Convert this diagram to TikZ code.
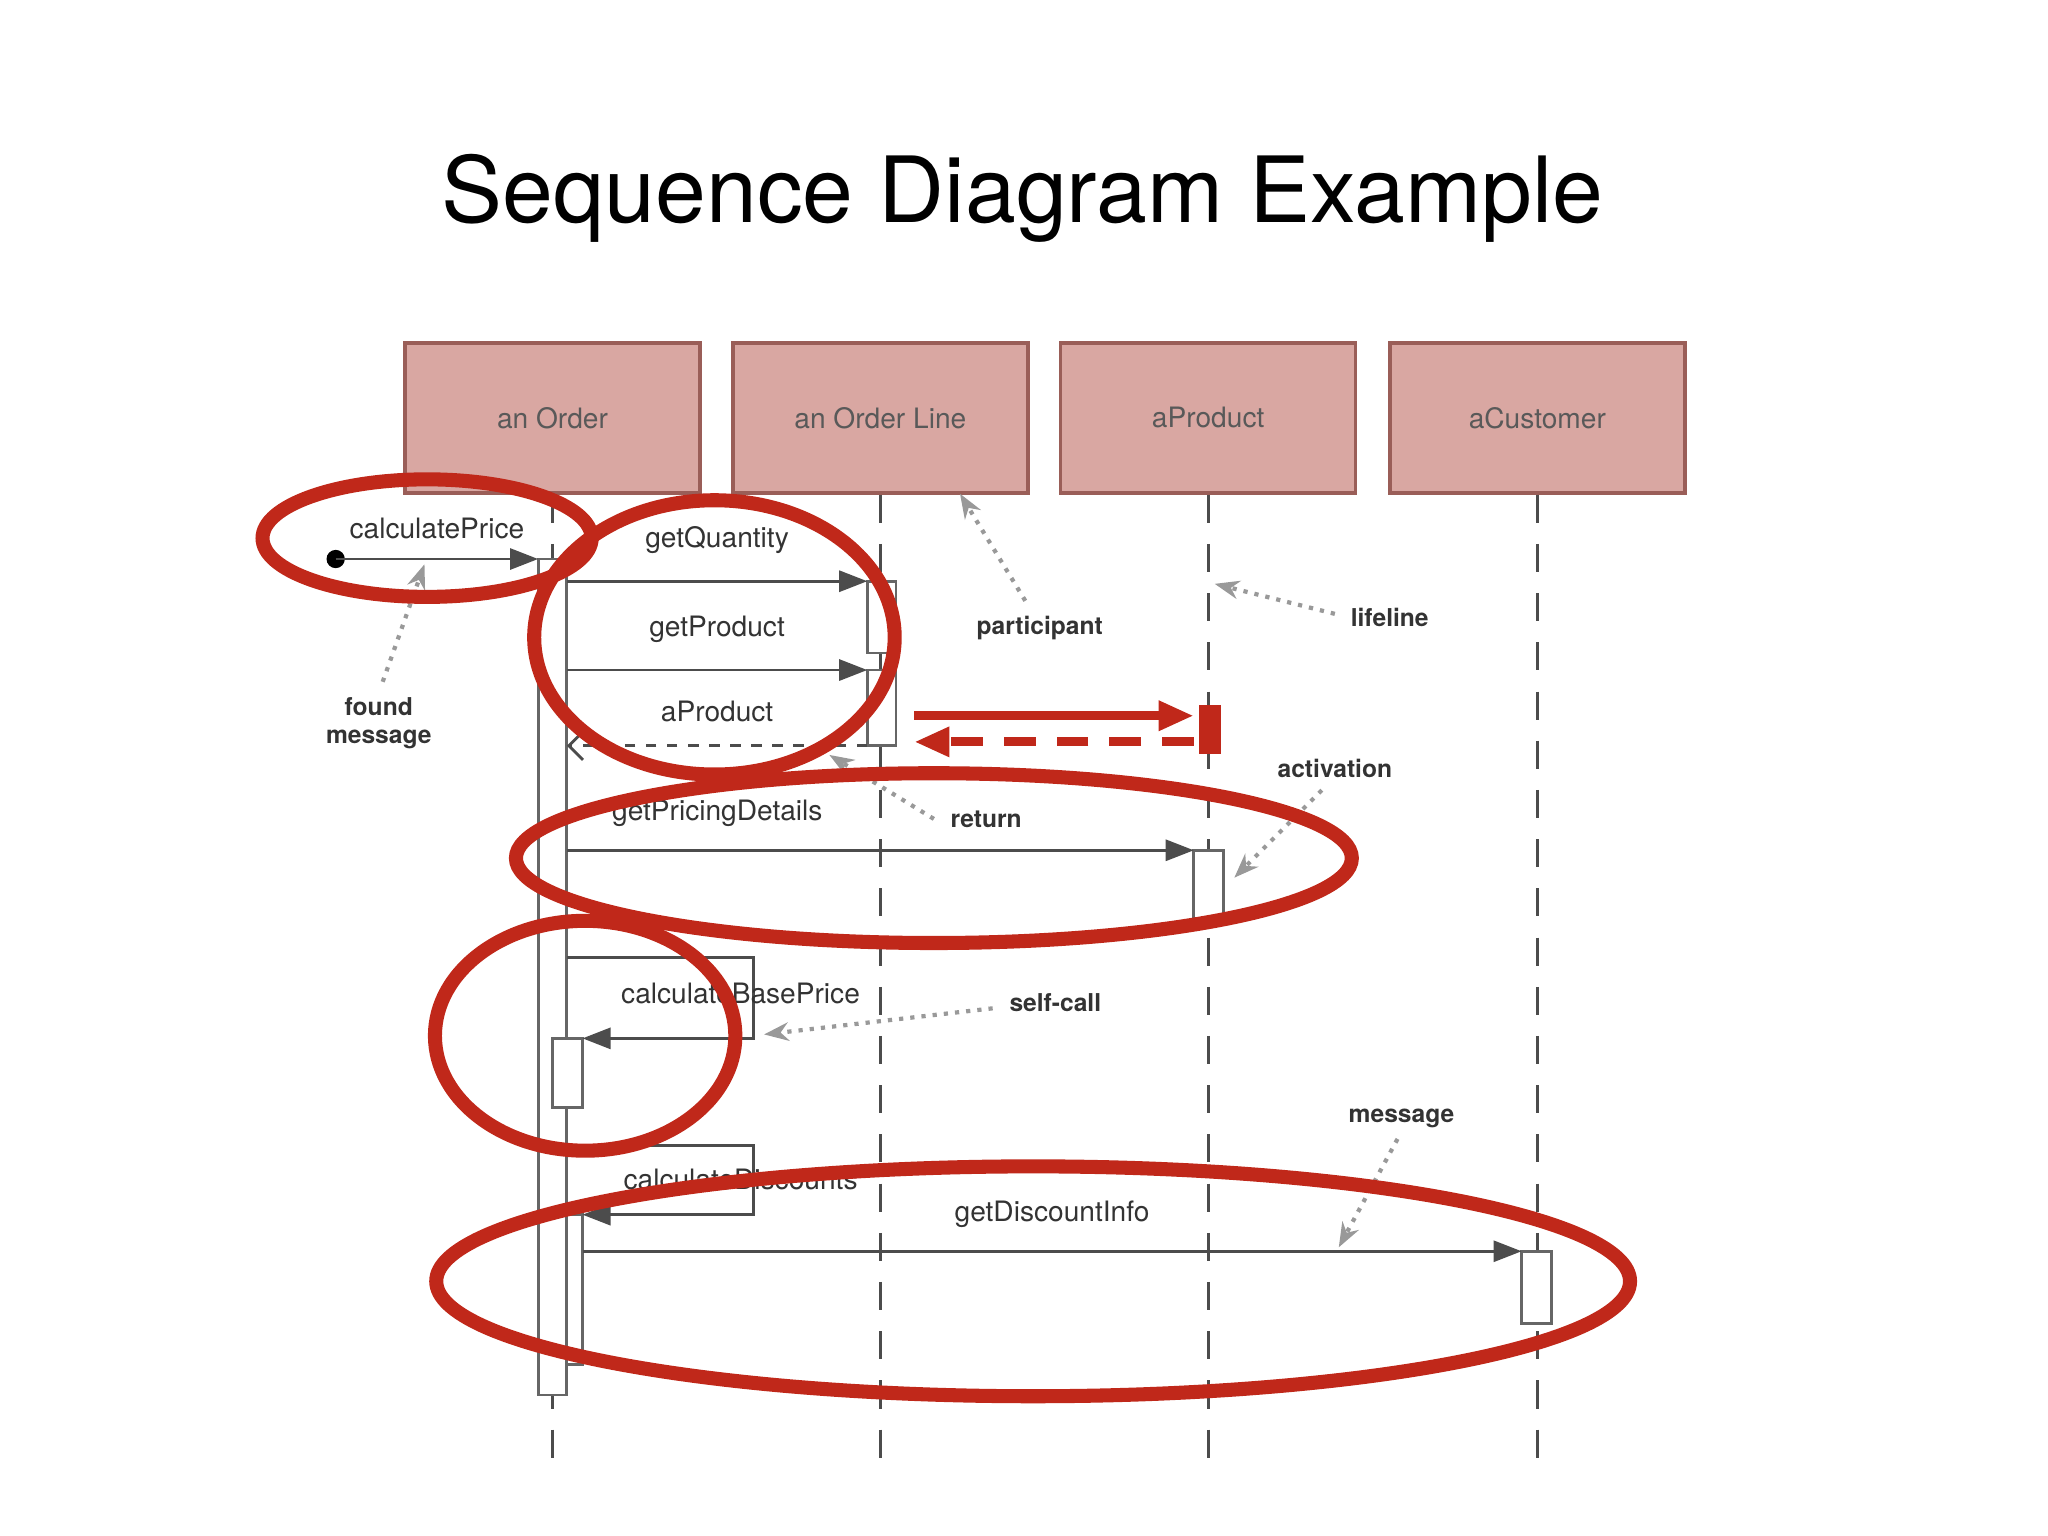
\documentclass[tikz,border=0pt]{standalone}
\usepackage{fontspec}
\setmainfont{TeX Gyre Heros}
\usetikzlibrary{calc,arrows.meta}
\definecolor{boxfill}{HTML}{D9A7A2}
\definecolor{boxline}{HTML}{9A5E58}
\definecolor{hilite}{HTML}{C0281A}
\tikzset{
  part/.style={draw=boxline,fill=boxfill,line width=1pt,minimum width=2.95cm,minimum height=1.5cm,text=black!65,font=\footnotesize},
  life/.style={draw=black!70,line width=0.8pt,dash pattern=on 8pt off 6pt},
  act/.style={draw=black!60,fill=white,line width=0.8pt},
  msg/.style={draw=black!70,line width=0.8pt,-{Triangle[length=8pt,width=6pt]}},
  ret/.style={draw=black!70,line width=0.8pt,dashed,-{Straight Barb[length=4pt]}},
  lbl/.style={font=\footnotesize,text=black!80},
  note/.style={font=\scriptsize\bfseries,text=black!80,align=center},
  pointer/.style={draw=black!40,line width=1.2pt,dotted,-{Stealth[length=7pt]}},
  ring/.style={draw=hilite,line width=4pt}
}
\begin{document}
\begin{tikzpicture}[x=0.01306cm,y=-0.01306cm]
    \useasboundingbox (0,0) rectangle (1568,1176);
    \node[font=\fontsize{26}{30}\selectfont] (title) at (783,152) {Sequence Diagram Example};
    % participants and lifelines
    \foreach \name/\xc/\txt in {ord/423/an Order,line/674/an Order Line,prod/925/aProduct,cust/1177/aCustomer}{
      \node[part] (\name) at (\xc,320) {\txt};
      \coordinate (\name end) at (\xc,1125);
      \draw[life] (\name.south) -- (\name end);
    }
    % activations
    \draw[act] (412,428) rectangle (434,1068);
    \draw[act] (664,445) rectangle (686,500);
    \draw[act] (664,513) rectangle (686,571);
    \draw[act] (914,651) rectangle (937,703);
    \draw[act] (1165,958) rectangle (1188,1013);
    \draw[act] (423,795) rectangle (446,848);
    \draw[act] (434,930) rectangle (446,1045);
    % messages
    \fill (257,428) circle (7);
    \draw[msg] (257,428) -- (412,428) node[lbl,midway,above=2pt] {calculatePrice};
    \draw[msg] (434,445) -- (664,445) node[lbl,midway,above=4pt] {getQuantity};
    \draw[msg] (434,513) -- (664,513) node[lbl,midway,above=4pt] {getProduct};
    \draw[ret] (664,571) -- (434,571) node[lbl,midway,above=3pt] {aProduct};
    \draw[msg] (434,651) -- (914,651) node[lbl,pos=0.24,above=3pt] {getPricingDetails};
    \draw[msg] (434,733) -- (577,733) -- (577,795) -- (446,795);
    \node[lbl] (base) at (567,761) {calculateBasePrice};
    \draw[msg] (434,877) -- (577,877) -- (577,930) -- (446,930);
    \node[lbl] (disc) at (567,903) {calculateDiscounts};
    \draw[msg] (446,958) -- (1165,958) node[lbl,pos=0.5,above=3pt] {getDiscountInfo};
    % red call and return
    \fill[hilite] (918,540) rectangle (935,577);
    \draw[hilite,line width=2.5pt,-{Triangle[length=10pt,width=8pt]}] (700,548) -- (914,548);
    \draw[hilite,line width=2.5pt,dash pattern=on 9pt off 6pt,-{Triangle[length=10pt,width=8pt]}] (914,568) -- (700,568);
    % annotations
    \node[note] (nfound) at (290,554) {found\\message};
    \draw[pointer] (293,522) -- (325,432);
    \node[note] (npart) at (796,481) {participant};
    \draw[pointer] (785,460) -- (735,378);
    \node[note] (nlife) at (1064,473) {lifeline};
    \draw[pointer] (1022,470) -- (930,447);
    \node[note] (nact) at (1022,588) {activation};
    \draw[pointer] (1012,605) -- (945,672);
    \node[note] (nret) at (755,627) {return};
    \draw[pointer] (715,627) -- (635,578);
    \node[note] (nself) at (808,768) {self-call};
    \draw[pointer] (760,772) -- (585,792);
    \node[note] (nmsg) at (1073,856) {message};
    \draw[pointer] (1070,872) -- (1025,955);
    % highlight rings
    \draw[ring] (327,412) ellipse [x radius=126,y radius=45];
    \draw[ring] (547,488) ellipse [x radius=138,y radius=105];
    \draw[ring] (715,657) ellipse [x radius=320,y radius=65];
    \draw[ring] (448,793) ellipse [x radius=115,y radius=88];
    \draw[ring] (791,981) ellipse [x radius=457,y radius=88];
\end{tikzpicture}
\end{document}
